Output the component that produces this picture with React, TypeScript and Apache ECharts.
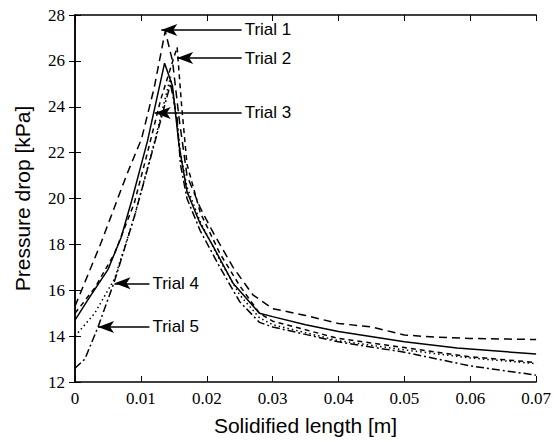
import React, { useEffect, useRef } from "react";
import * as echarts from "echarts";

const trial1: [number, number][] = [
  [0, 15.3], [0.001, 16.0], [0.004, 18.1], [0.0078, 21.0], [0.0101, 22.6], [0.012, 24.8], [0.0137, 27.3],
  [0.0148, 26.0], [0.0158, 23.5], [0.017, 21.0], [0.019, 19.6], [0.021, 18.5], [0.024, 17.0], [0.027, 15.8],
  [0.03, 15.2], [0.035, 14.9], [0.04, 14.55], [0.045, 14.4], [0.05, 14.05], [0.055, 13.95], [0.06, 13.9], [0.07, 13.85],
];
const trial2: [number, number][] = [
  [0, 15.0], [0.003, 16.1], [0.006, 17.6], [0.009, 19.8], [0.011, 22.0], [0.013, 24.3], [0.0155, 26.6],
  [0.0162, 24.0], [0.017, 21.5], [0.019, 19.4], [0.022, 17.6], [0.025, 16.2], [0.028, 15.0],
  [0.03, 14.65], [0.04, 13.9], [0.05, 13.5], [0.06, 13.1], [0.07, 12.85],
];
const trial3: [number, number][] = [
  [0, 14.7], [0.002, 15.6], [0.005, 16.9], [0.007, 18.3], [0.0086, 19.9], [0.011, 22.5], [0.0136, 25.9],
  [0.0148, 24.9], [0.0158, 22.3], [0.017, 20.3], [0.019, 18.9], [0.021, 17.9], [0.024, 16.3], [0.028, 15.0],
  [0.03, 14.85], [0.035, 14.5], [0.04, 14.2], [0.05, 13.75], [0.058, 13.48], [0.07, 13.22],
];
const trial4: [number, number][] = [
  [0, 14.0], [0.003, 15.0], [0.006, 16.5], [0.009, 19.2], [0.012, 22.4], [0.0145, 25.3],
  [0.0152, 24.0], [0.016, 22.0], [0.017, 20.5], [0.019, 19.0], [0.022, 17.3], [0.025, 15.8], [0.028, 14.8],
  [0.03, 14.5], [0.04, 13.8], [0.05, 13.4], [0.06, 13.05], [0.07, 12.8],
];
const trial5: [number, number][] = [
  [0, 12.6], [0.0015, 13.0], [0.0035, 14.4], [0.006, 16.4], [0.009, 19.2], [0.0115, 21.8], [0.0145, 25.0],
  [0.0155, 23.5], [0.016, 21.5], [0.017, 20.0], [0.019, 18.6], [0.022, 17.0], [0.025, 15.5], [0.028, 14.6],
  [0.03, 14.4], [0.04, 13.75], [0.05, 13.3], [0.06, 12.7], [0.07, 12.3],
];

const trialNames = ["Trial 1", "Trial 2", "Trial 3", "Trial 4", "Trial 5"];
// arrow tip [x, y] and label anchor x for each trial annotation
const arrowTips: [number, number][] = [[0.0131, 27.35], [0.0155, 26.12], [0.0121, 23.73], [0.006, 16.3], [0.0035, 14.4]];
const arrowEndsX = [0.0253, 0.0253, 0.0253, 0.0113, 0.0113];

export default function App() {
  const ref = useRef<HTMLDivElement>(null);
  useEffect(() => {
    if (!ref.current) return;
    const chart = echarts.init(ref.current, null, { renderer: "svg" });
    const dashes: any[] = [[8, 5], [5, 4], "solid", [1.5, 3], [8, 3, 2, 3]];
    const datas = [trial1, trial2, trial3, trial4, trial5];
    const series: any[] = datas.map((d, i) => ({
      type: "line",
      name: trialNames[i],
      data: d,
      showSymbol: false,
      symbol: "none",
      lineStyle: { color: "#000", width: 1.5, type: dashes[i] },
      silent: true,
      z: 2,
    }));
    series.push({
      type: "line",
      data: [],
      silent: true,
      markLine: {
        silent: true,
        animation: false,
        symbol: ["arrow", "none"],
        symbolSize: [9, 16],
        lineStyle: { color: "#000", width: 1.5, type: "solid" },
        label: {
          show: true,
          position: "end",
          distance: 3,
          color: "#000",
          fontFamily: "Liberation Sans",
          fontSize: 17,
        },
        data: arrowTips.map((t, i) => [
          { coord: [t[0], t[1]], symbol: "arrow" },
          { coord: [arrowEndsX[i], t[1]], symbol: "none", label: { formatter: trialNames[i] } },
        ]),
      },
    });
    chart.setOption({
      animation: false,
      backgroundColor: "#fff",
      grid: { left: 75, right: 15, top: 15, bottom: 60 },
      xAxis: [
        {
          type: "value",
          min: 0,
          max: 0.07,
          interval: 0.01,
          name: "Solidified length [m]",
          nameLocation: "middle",
          nameGap: 33,
          nameTextStyle: { fontFamily: "Liberation Sans", fontSize: 21, color: "#000" },
          axisLine: { lineStyle: { color: "#000", width: 1.5 } },
          axisTick: { inside: true, length: 6, lineStyle: { color: "#000" } },
          axisLabel: { fontFamily: "Liberation Serif", fontSize: 17, color: "#000", margin: 8 },
          splitLine: { show: false },
        },
        {
          type: "value",
          position: "top",
          min: 0,
          max: 0.07,
          interval: 0.01,
          axisLine: { lineStyle: { color: "#000", width: 1.5 } },
          axisTick: { inside: true, length: 6, lineStyle: { color: "#000" } },
          axisLabel: { show: false },
          splitLine: { show: false },
        },
      ],
      yAxis: [
        {
          type: "value",
          min: 12,
          max: 28,
          interval: 2,
          name: "Pressure drop [kPa]",
          nameLocation: "middle",
          nameRotate: 90,
          nameGap: 42,
          nameTextStyle: { fontFamily: "Liberation Sans", fontSize: 21, color: "#000" },
          axisLine: { show: true, lineStyle: { color: "#000", width: 1.5 } },
          axisTick: { show: true, inside: true, length: 6, lineStyle: { color: "#000" } },
          axisLabel: { fontFamily: "Liberation Serif", fontSize: 17, color: "#000", margin: 10 },
          splitLine: { show: false },
        },
        {
          type: "value",
          position: "right",
          min: 12,
          max: 28,
          interval: 2,
          axisLine: { show: true, lineStyle: { color: "#000", width: 1.5 } },
          axisTick: { show: true, inside: true, length: 6, lineStyle: { color: "#000" } },
          axisLabel: { show: false },
          splitLine: { show: false },
        },
      ],
      series,
    });
    return () => chart.dispose();
  }, []);
  return <div ref={ref} style={{ position: "fixed", left: 0, top: 0, width: 554, height: 442 }} />;
}
